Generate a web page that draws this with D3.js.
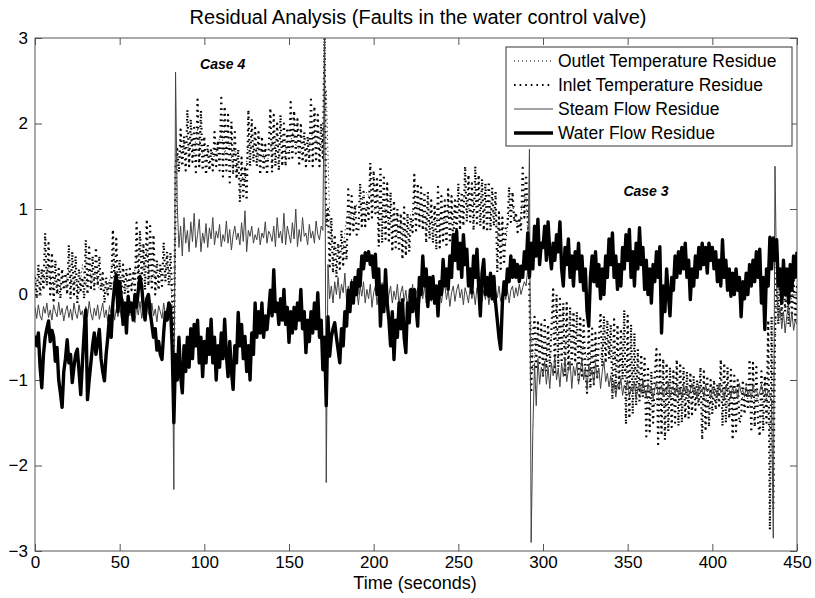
<!DOCTYPE html>
<html>
<head>
<meta charset="utf-8">
<script src="https://cdn.jsdelivr.net/npm/d3@7"></script>
<style>
  body { margin: 0; background: #fff; }
  svg { display: block; font-family: "Liberation Sans", Arial, sans-serif; }
</style>
</head>
<body>
<div class="chart"></div>
<script>
// sampling of the traces (seconds)
const sampleStep = 1;
const outletStep = 2;

// Outlet Temperature Residue (every 2 s)
const outletTemp = [
  0.1,0.2,0.3,0.15,0.35,0.05,0.2,0,0.15,0.1,
  0.3,0.1,0.2,0,0.35,0.1,0.3,0.15,0.25,0.05,
  0.1,0,0.15,0.4,0.2,0.15,0.2,0.05,0.1,0.15,
  0.45,0.2,0.3,0.5,0.15,0.25,0.1,0.3,0.2,0.35,
  0.2,-0.5,1.6,1.6,1.75,1.7,1.8,1.65,1.95,1.7,
  1.6,1.65,1.7,1.6,1.75,1.9,1.65,1.8,1.6,1.7,
  1.35,1.4,1.3,1.8,1.7,1.75,1.6,1.7,1.55,1.6,
  1.8,1.7,1.75,1.8,1.7,1.65,1.9,1.75,1.7,1.65,
  1.7,1.75,1.9,1.8,1.7,1.8,2.4,0.9,0.6,0.5,
  0.5,0.55,0.9,0.95,0.9,1.05,1,1.15,1.2,1.1,
  1,0.95,1,1.05,0.9,0.8,0.75,0.7,0.85,0.7,
  0.8,0.95,1,1.05,1,0.9,0.85,0.8,0.85,0.9,
  0.9,0.85,0.95,0.9,1,1.05,1.1,1.15,1,1.05,
  1.1,1.05,1,1,1.05,0.95,1,0.55,0.6,0.6,
  1,1.05,0.85,0.8,1.1,1.15,0.2,-0.9,-0.55,-0.6,
  -0.6,-0.65,-0.55,-0.45,-0.4,-0.5,-0.55,-0.6,-0.55,-0.5,
  -0.6,-0.65,-0.6,-0.75,-0.7,-0.8,-0.7,-0.75,-0.55,-0.5,
  -0.75,-0.7,-0.8,-0.75,-0.85,-0.9,-0.95,-0.85,-1,-1.05,
  -1.1,-1.25,-1.2,-1.3,-1.2,-1.25,-1.3,-1.15,-1.2,-1.25,
  -1.15,-1.2,-1.1,-1.25,-1.2,-1.15,-1.3,-1.25,-1.2,-1.3,
  -1.2,-1.25,-1.15,-1.2,-1.3,-1.25,-1.2,-1.3,-1.25,-1.2,
  -1.15,-1.3,-1.25,-1.2,-1.3,-1.25,-1.2,-1.6,-1.2,0.05,
  0.1,-0.05,0,-0.1,0.05,0
];

// Inlet Temperature Residue (every 1 s)
const inletTemp = [
  0.2,-0.05,0.35,0,0.3,0.05,0.72,0.1,0.6,0,
  0.49,-0.1,0.4,0,0.3,-0.05,0.3,0.05,0.25,0,
  0.58,-0.05,0.5,0,0.45,-0.1,0.3,0.05,0.2,-0.05,
  0.64,0,0.55,0.05,0.45,0.05,0.55,0.1,0.45,0.05,
  0.25,-0.1,0.2,0,0.15,0.05,0.76,0.1,0.65,0.05,
  0.41,-0.05,0.35,0,0.3,0,0.3,0.05,0.25,0.05,
  0.84,0.1,0.75,0.15,0.6,0.05,0.88,0.1,0.8,0.05,
  0.7,0,0.4,0.05,0.35,0.1,0.61,0.15,0.5,0.1,
  0.49,0,-0.8,1.5,1.7,1.43,1.93,1.5,1.85,1.45,
  2.16,1.5,2.05,1.55,1.95,1.43,2.28,1.5,2.15,1.45,
  1.85,1.4,1.75,1.45,1.7,1.45,1.9,1.5,1.8,1.45,
  2.3,1.38,2.2,1.45,2.1,1.31,2.02,1.4,1.9,1.35,
  1.7,1.08,1.6,1.15,1.5,1.1,2.16,1.5,2.05,1.55,
  1.95,1.5,1.9,1.4,1.85,1.45,1.75,1.4,1.7,2.18,
  1.43,2.1,1.5,2,1.45,2.1,1.5,2,1.5,1.95,
  1.56,2.25,1.6,2.15,1.65,2.05,1.5,1.98,1.55,1.9,
  1.5,1.85,1.55,2.28,1.5,2.2,1.55,2.1,1.5,2,
  1.6,3,0.8,1,0.3,0.9,0.25,0.7,0.2,0.6,
  0.3,0.75,0.35,0.65,0.4,1.23,0.7,1.15,0.75,1.05,
  0.7,0.75,1.3,0.8,1.2,0.8,1.1,0.88,1.54,0.9,
  1.45,0.95,1.35,0.56,1.5,0.6,1.4,0.65,1.3,0.6,
  1.2,0.5,1.1,0.55,1,0.5,0.95,0.41,1.02,0.45,
  0.95,0.5,0.9,0.73,1.4,0.75,1.3,0.8,1.25,0.75,
  1.2,0.6,1.2,0.65,1.1,0.6,1.05,0.52,1.26,0.55,
  1.15,0.6,1.1,0.55,1.23,0.6,1.15,0.6,1.1,0.7,
  1.3,0.75,1.2,0.8,1.5,0.85,1.4,0.85,1.3,0.75,
  1.5,0.8,1.4,0.8,1.35,0.75,1.3,0.73,1.32,0.75,
  1.25,0.8,1.2,0.26,0.96,0.3,0.9,0.35,0.8,0.8,
  1.26,0.85,1.2,0.85,0.96,0.73,0.9,0.75,1.48,0.9,
  1.4,0.95,0,-1.15,-0.5,-0.26,-0.88,-0.3,-0.8,-0.35,
  -0.95,-0.3,-0.9,-0.35,-0.85,-0.4,0.06,-0.91,0,-0.85,
  -0.05,-0.8,-0.1,-0.95,-0.1,-0.9,-0.15,-0.85,-0.2,-0.8,
  -0.2,-1,-0.25,-0.95,-0.3,-0.9,-1.15,-0.33,-1.1,-0.4,
  -1.05,-0.45,-1,-0.5,-0.21,-0.84,-0.25,-0.8,-0.3,-0.75,
  -0.35,-1.23,-0.29,-1.15,-0.35,-1.1,-0.4,-1,-0.18,-1.52,
  -0.25,-1.45,-0.35,-1.4,-0.45,-1.3,-0.64,-1.25,-0.7,-1.2,
  -0.75,-1.66,-0.84,-1.6,-0.9,-1.5,-0.95,-0.64,-1.75,-0.7,
  -1.65,-0.75,-1.7,-0.8,-1.6,-0.85,-1.55,-0.9,-1.5,-0.76,
  -1.54,-0.8,-1.5,-0.85,-1.45,-0.9,-1.45,-0.91,-1.4,-0.95,
  -1.35,-1,-1.3,-0.85,-1.7,-0.9,-1.6,-0.95,-1.55,-1,
  -1.4,-1,-1.35,-1.05,-1.3,-0.76,-1.54,-0.8,-1.5,-0.85,
  -1.45,-0.88,-1.7,-0.95,-1.6,-1,-1.5,-1.45,-1,-1.4,
  -1.05,-1.35,-0.76,-1.61,-0.8,-1.55,-0.85,-1.5,-1.66,-0.9,
  -1.6,-0.95,-1.5,-0.3,-2.75,-0.26,-2.5,-0.5,0.4,-0.35,
  0.3,-0.3,0.35,-0.2,0.25,-0.35,0.3,-0.25,0.2,-0.3,
  0.1
];

// Steam Flow Residue (every 1 s)
const steamFlow = [
  -0.15,-0.28,-0.12,-0.25,-0.3,-0.14,-0.22,-0.1,-0.27,-0.18,
  -0.3,-0.12,-0.2,-0.26,-0.09,-0.24,-0.16,-0.31,-0.2,-0.13,
  -0.27,-0.17,-0.3,-0.1,-0.22,-0.28,-0.12,-0.24,-0.19,-0.33,
  -0.14,-0.26,-0.08,-0.22,-0.3,-0.16,-0.25,-0.12,-0.29,-0.2,
  -0.1,-0.27,-0.18,-0.32,-0.13,-0.24,-0.09,-0.3,-0.17,-0.26,
  -0.12,-0.28,-0.05,-0.22,-0.3,-0.15,-0.25,-0.1,-0.2,-0.33,
  -0.14,-0.24,-0.08,-0.28,-0.18,-0.3,-0.12,-0.22,-0.27,-0.1,
  -0.25,-0.17,-0.32,-0.13,-0.2,-0.28,-0.1,-0.24,-0.16,-0.3,
  -0.2,-0.3,-2.28,2.6,1.05,0.55,0.8,0.45,0.9,0.6,
  0.75,0.5,0.85,0.62,0.95,0.55,0.7,0.88,0.5,0.72,
  0.6,0.83,0.55,0.78,0.65,0.9,0.58,0.74,0.66,0.82,
  0.56,0.7,0.62,0.86,0.6,0.76,0.52,0.7,0.8,0.64,
  0.72,0.58,0.84,0.62,0.98,0.5,0.75,0.68,0.8,0.6,
  0.7,0.64,0.78,0.58,0.72,0.66,0.85,0.6,0.74,0.7,
  0.62,0.8,0.56,0.9,0.66,0.74,0.6,0.95,0.58,0.8,
  0.7,0.6,0.84,0.65,1,0.56,0.76,0.62,0.9,0.68,
  0.72,0.58,0.82,0.66,0.74,0.6,0.86,0.7,0.64,0.8,
  0.75,3,-2.2,0.35,-0.05,0.1,-0.1,0.15,0,0.2,
  -0.05,0.12,0.02,0.25,-0.08,0.1,0,0.18,-0.1,0.08,
  0.05,-0.12,0.1,-0.02,0.15,-0.1,0.06,-0.05,0.12,-0.15,
  0.02,0.1,-0.12,0.05,-0.08,0.14,-0.02,0.08,-0.15,0,
  0.1,-0.1,0.04,-0.06,0.12,-0.12,0.02,0.1,-0.08,0.05,
  -0.14,0.06,-0.04,0.12,-0.1,0,0.08,-0.12,0.04,-0.05,
  0.1,-0.1,0.02,0.14,-0.08,0.05,-0.12,0.08,-0.02,0.1,
  -0.1,0.04,0.12,-0.06,0.06,-0.14,0.02,0.1,-0.08,0.05,
  0.12,-0.04,0.06,-0.12,0.08,0,-0.1,0.1,-0.05,0.04,
  -0.12,0.08,0,0.12,-0.08,0.05,-0.06,0.1,-0.12,0.02,
  0.08,-0.1,0.04,-0.04,0.1,-0.08,0.02,0.12,-0.06,0.06,
  -0.1,0.05,0.1,-0.04,0.08,-0.02,0.12,0,0.08,0.15,
  0.1,0.3,1.7,-2.9,-1.6,-0.8,-1.3,-0.75,-1.05,-0.85,
  -0.95,-0.78,-1.05,-0.85,-1.1,-0.8,-0.95,-0.72,-1,-0.86,
  -1.08,-0.8,-0.96,-0.75,-1.02,-0.88,-0.78,-1.1,-0.84,-0.95,
  -0.8,-1.05,-0.9,-0.76,-1,-0.85,-1.12,-0.82,-0.95,-0.88,
  -1.05,-0.8,-0.98,-0.86,-1.1,-0.9,-0.78,-1.02,-0.92,-1.08,
  -0.95,-1.15,-1.02,-1.2,-1.05,-1.1,-0.98,-1.18,-1.06,-1.12,
  -1,-1.2,-1.08,-1.14,-1.02,-1.22,-1.1,-1.05,-1.16,-1,
  -1.12,-1.2,-1.04,-1.15,-1.08,-1.22,-1.1,-1.02,-1.18,-1.12,
  -1.06,-1.2,-1.1,-1.15,-1.02,-1.2,-1.12,-1.08,-1.16,-1.05,
  -1.18,-1.1,-1.22,-1.05,-1.14,-1.08,-1.2,-1.12,-1.04,-1.16,
  -1.1,-1.22,-1.06,-1.15,-1.1,-1.2,-1.05,-1.14,-1.1,-1.22,
  -1.08,-1.16,-1.12,-1.2,-1.04,-1.15,-1.1,-1.22,-1.06,-1.14,
  -1.12,-1.2,-1.08,-1.16,-1.1,-1.22,-1.04,-1.15,-1.12,-1.2,
  -1.08,-1.18,-1.12,-1.22,-1.06,-1.15,-1.1,-1.2,-1.14,-1.05,
  -1.16,-1.1,-1.2,-1.12,-1.18,-1.25,-2.85,1.5,0.1,-0.3,
  -0.15,-0.4,-0.2,-0.45,-0.25,-0.1,-0.38,-0.2,-0.42,-0.3,
  -0.35
];

// Water Flow Residue (every 1 s)
const waterFlow = [
  -0.48,-0.6,-0.45,-0.85,-1.09,-0.7,-0.5,-0.4,-0.31,-0.55,
  -0.42,-0.5,-0.78,-0.62,-1,-1.15,-1.32,-0.9,-0.75,-0.53,
  -0.8,-0.7,-1.03,-0.85,-0.7,-0.64,-0.9,-1.17,-0.8,-0.45,
  -0.18,-1.23,-1,-0.8,-0.6,-0.45,-0.7,-0.55,-0.41,-0.75,
  -0.9,-1.01,-0.7,-0.5,-0.25,-0.5,-0.1,0.1,0.23,-0.2,
  0.15,-0.05,-0.35,-0.1,-0.45,-0.02,-0.2,-0.1,-0.3,0,
  -0.15,0.05,0.21,0.1,-0.15,-0.3,-0.05,0,-0.2,-0.35,
  -0.5,-0.4,-0.65,-0.55,-0.7,-0.76,-0.45,-0.21,-0.3,-0.1,
  -0.14,-0.6,-1.5,-0.7,-1,-0.5,-0.95,-1.15,-0.6,-0.9,
  -0.5,-0.85,-0.4,-0.75,-0.35,-0.6,-0.3,-0.8,-0.5,-0.96,
  -0.55,-0.8,-0.4,-0.7,-0.29,-0.8,-0.5,-1,-0.6,-0.85,
  -0.45,-0.75,-0.29,-0.7,-0.96,-0.55,-0.9,-1.11,-0.6,-0.8,
  -0.21,-0.6,-0.35,-0.75,-0.49,-0.9,-0.6,-1,-0.45,-0.7,
  -0.1,-0.5,-0.2,-0.45,-0.1,-0.5,-0.25,-0.41,-0.2,0.05,
  -0.25,0.29,-0.2,-0.1,-0.35,-0.05,-0.3,0.06,-0.35,-0.15,
  -0.56,-0.2,-0.45,-0.15,-0.4,-0.1,-0.3,0.06,-0.4,-0.2,
  -0.68,-0.3,-0.55,-0.2,-0.45,-0.1,-0.4,0.02,-0.5,-0.3,
  -0.88,-0.5,-1.3,-0.26,-0.72,-0.5,-0.4,-0.33,-0.5,-0.65,
  -0.8,-0.4,-0.6,-0.2,-0.37,0.05,-0.2,0.14,-0.1,0.2,
  0,0.29,0.1,0.45,0.3,0.49,0.4,0.5,0.35,0.45,
  0.2,0.47,0,0.3,-0.37,0.1,-0.2,0.29,-0.1,-0.3,
  -0.6,-0.2,-0.76,-0.3,-0.5,-0.1,-0.4,-0.06,-0.5,-0.68,
  -0.1,-0.33,0.06,-0.2,0.06,-0.15,-0.37,0.2,0,0.45,
  0.1,0.3,-0.14,0.2,-0.05,0.21,-0.1,0.1,-0.25,0.15,
  0,0.41,0.1,0.3,0.06,0.45,0.2,0.7,0.4,0.74,
  0.3,0.6,0.2,0.7,0.35,0.53,0.1,0.3,0.02,0.45,
  0.2,0.53,0.1,-0.25,0.25,0.41,0,0.2,-0.02,0.25,
  -0.05,0.21,-0.1,-0.3,-0.5,-0.64,-0.1,0.15,0,0.3,
  0.15,0.45,0.2,0.4,0.2,0.35,0.15,0.33,0.2,0.5,
  0.3,0.72,0.21,0.6,0.3,0.8,0.45,0.88,0.35,0.6,
  0.55,0.8,0.4,0.85,0.5,0.3,0.6,0.4,0.7,0.5,
  0.85,0.3,0.1,0.55,0.35,0.65,0.2,0.45,0.1,0.5,
  0.3,0.6,0.15,0.45,0.05,0.3,-0.2,-0.37,0.2,0.45,
  0.15,0.5,0.1,0.35,-0.05,0.3,0,0.45,0.2,0.65,
  0.35,0.72,0.2,0.45,0.06,0.35,0.1,0.55,0.3,0.7,
  0.4,0.76,0.2,0.5,0.1,0.6,0.3,0.78,0.35,0.55,
  0.06,0.4,0,0.3,-0.1,0.35,0.15,0.5,0.2,0.56,
  -0.45,0.1,-0.2,0.3,0,-0.25,0.2,0.05,0.45,0.2,
  0.5,0.25,0.55,0.3,0.6,0.2,0.4,-0.06,0.3,0.1,
  0.45,0.2,0.55,0.3,0.6,0.35,0.55,0.25,0.6,0.4,
  0.55,0.3,0.5,0.15,0.4,0.1,0.64,0.2,0.4,0.05,
  0.3,-0.02,0.25,0,0.3,0.05,0.2,-0.26,0.15,-0.05,
  0.25,0,0.35,0.1,0.4,0.15,0.5,0.2,0.53,-0.1,
  0.2,-0.41,0.3,0.1,0.67,0.3,0.66,0.4,0.64,0.1,
  0.3,-0.1,0.4,0,0.3,-0.1,0.35,0.05,0.45,0.2,
  0.5
];

const xTicks = [0, 50, 100, 150, 200, 250, 300, 350, 400, 450];
const yTicks = [-3, -2, -1, 0, 1, 2, 3];
const seriesNames = ['Outlet Temperature Residue', 'Inlet Temperature Residue', 'Steam Flow Residue', 'Water Flow Residue'];
const caseLabels = [
  { text: 'Case 4', t: 97.5, v: 2.69 },
  { text: 'Case 3', t: 347.5, v: 1.21 }
];

let chart = {
  svg: {},
  plot: {},
  x: {},
  y: {},
  config: {
    w: 815,
    h: 598,
    left: 35,
    right: 797,
    top: 38,
    bottom: 551,
    tick: 7
  },
  // line styles, in legend order
  styles: [
    { color: '#000', width: 1, dash: '1,3' },
    { color: '#000', width: 2.2, dash: '1.6,4' },
    { color: '#444', width: 1, dash: null },
    { color: '#000', width: 3.4, dash: null }
  ],
  init: function () {
    const c = this.config;
    this.svg = d3.select('.chart').append('svg')
      .attr('width', c.w)
      .attr('height', c.h);
    this.x = d3.scaleLinear().domain([0, 450]).range([c.left, c.right]);
    this.y = d3.scaleLinear().domain([-3, 3]).range([c.bottom, c.top]);
    this.axes();
    this.lines();
    this.legend();
  },
  axes: function () {
    const c = this.config;
    const s = this.svg;
    const fmt = d3.format('d');
    // 四邊刻度 (MATLAB box)
    s.append('g').attr('class', 'x axis')
      .attr('transform', `translate(0,${c.bottom})`)
      .call(d3.axisBottom(this.x).tickValues(xTicks).tickSizeInner(-c.tick).tickSizeOuter(0).tickPadding(5).tickFormat(fmt));
    s.append('g').attr('class', 'x2 axis')
      .attr('transform', `translate(0,${c.top})`)
      .call(d3.axisTop(this.x).tickValues(xTicks).tickSizeInner(-c.tick).tickSizeOuter(0).tickFormat(''));
    s.append('g').attr('class', 'y axis')
      .attr('transform', `translate(${c.left},0)`)
      .call(d3.axisLeft(this.y).tickValues(yTicks).tickSizeInner(-c.tick).tickSizeOuter(0).tickPadding(7).tickFormat(fmt));
    s.append('g').attr('class', 'y2 axis')
      .attr('transform', `translate(${c.right},0)`)
      .call(d3.axisRight(this.y).tickValues(yTicks).tickSizeInner(-c.tick).tickSizeOuter(0).tickFormat(''));
    s.selectAll('.axis .domain').remove();
    s.selectAll('.axis line').attr('stroke', '#555');
    s.selectAll('.axis text').attr('font-size', 17).attr('fill', '#000')
      .attr('font-family', '"Liberation Sans", Arial, sans-serif');

    // 外框
    s.append('rect')
      .attr('x', c.left).attr('y', c.top)
      .attr('width', c.right - c.left).attr('height', c.bottom - c.top)
      .attr('fill', 'none').attr('stroke', '#555').attr('stroke-width', 1);

    s.append('text')
      .attr('x', 418).attr('y', 24)
      .attr('text-anchor', 'middle').attr('font-size', 20)
      .text('Residual Analysis (Faults in the water control valve)');
    s.append('text')
      .attr('x', 415).attr('y', 589)
      .attr('text-anchor', 'middle').attr('font-size', 18)
      .text('Time (seconds)');
  },
  lines: function () {
    const c = this.config;
    this.svg.append('clipPath').attr('id', 'clip')
      .append('rect')
      .attr('x', c.left).attr('y', c.top)
      .attr('width', c.right - c.left).attr('height', c.bottom - c.top);
    this.plot = this.svg.append('g').attr('clip-path', 'url(#clip)');

    const all = [
      { values: outletTemp, step: outletStep },
      { values: inletTemp, step: sampleStep },
      { values: steamFlow, step: sampleStep },
      { values: waterFlow, step: sampleStep }
    ];
    all.forEach((d, k) => {
      const line = d3.line()
        .x((v, i) => this.x(i * d.step))
        .y(v => this.y(v));
      const st = this.styles[k];
      this.plot.append('path')
        .attr('d', line(d.values))
        .attr('fill', 'none')
        .attr('stroke', st.color)
        .attr('stroke-width', st.width)
        .attr('stroke-linejoin', 'round')
        .attr('stroke-dasharray', st.dash);
    });

    // Case 標示
    this.svg.selectAll('text.case')
      .data(caseLabels)
      .enter()
      .append('text')
      .attr('class', 'case')
      .attr('x', d => this.x(d.t))
      .attr('y', d => this.y(d.v))
      .attr('dy', '0.35em')
      .attr('font-size', 14)
      .attr('font-weight', 'bold')
      .attr('font-style', 'italic')
      .text(d => d.text);
  },
  legend: function () {
    const box = { x: 506, y: 47, w: 286, h: 99 };
    const g = this.svg.append('g').attr('class', 'legend');
    g.append('rect')
      .attr('x', box.x).attr('y', box.y)
      .attr('width', box.w).attr('height', box.h)
      .attr('fill', '#fff').attr('stroke', '#333');
    const rows = g.selectAll('g.row')
      .data(seriesNames)
      .enter()
      .append('g')
      .attr('class', 'row')
      .attr('transform', (d, i) => `translate(${box.x},${box.y + 14 + i * 24})`);
    rows.append('line')
      .attr('x1', 8).attr('x2', 47)
      .attr('stroke', (d, i) => this.styles[i].color)
      .attr('stroke-width', (d, i) => this.styles[i].width)
      .attr('stroke-dasharray', (d, i) => this.styles[i].dash);
    rows.append('text')
      .attr('x', 52)
      .attr('dy', '0.35em')
      .attr('font-size', 17.5)
      .text(d => d);
  }
};

chart.init();
</script>
</body>
</html>
